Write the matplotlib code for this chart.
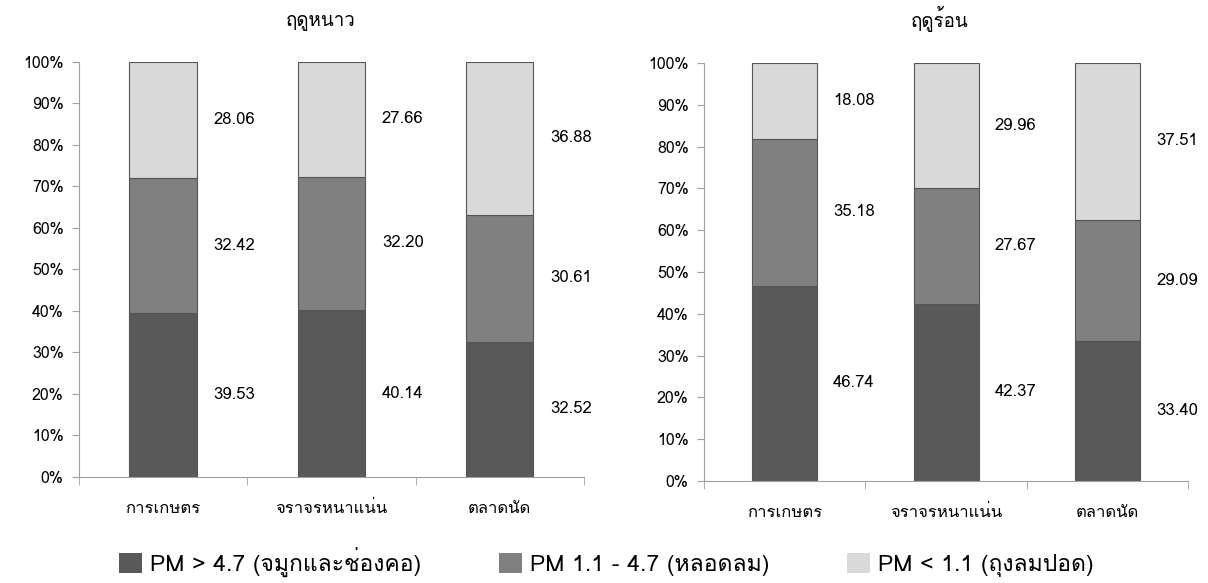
import matplotlib
matplotlib.use('Agg')
import matplotlib.pyplot as plt
from matplotlib import font_manager
from matplotlib.ft2font import FT2Font
from matplotlib.patches import Patch
from matplotlib.ticker import MultipleLocator, FixedLocator
import numpy as np

# find a font that has Thai glyphs, if any is installed
thai_fonts = []
for f in font_manager.fontManager.ttflist:
    try:
        if 0x0E01 in FT2Font(f.fname).get_charmap():
            thai_fonts.append(f.name)
    except Exception:
        pass
plt.rcParams['font.family'] = (thai_fonts[:1] + ['DejaVu Sans']) if thai_fonts else ['DejaVu Sans']

categories = ['การเกษตร', 'จราจรหนาแน่น', 'ตลาดนัด']
titles = ['ฤดูหนาว', 'ฤดูร้อน']
series_names = ['PM > 4.7 (จมูกและช่องคอ)', 'PM 1.1 - 4.7 (หลอดลม)', 'PM < 1.1 (ถุงลมปอด)']

winter_coarse = [39.53, 40.14, 32.52]
winter_mid = [32.42, 32.20, 30.61]
winter_fine = [28.06, 27.66, 36.88]

summer_coarse = [46.74, 42.37, 33.40]
summer_mid = [35.18, 27.67, 29.09]
summer_fine = [18.08, 29.96, 37.51]

colors = ['#595959', '#808080', '#D9D9D9']
axis_col = '#A0A0A0'

fig = plt.figure(figsize=(12.08, 5.83), dpi=100)
ax1 = fig.add_axes([0.0654, 0.182, 0.418, 0.712])
ax2 = fig.add_axes([0.5828, 0.175, 0.401, 0.717])


def draw(ax, stacks, title, title_x_shift, title_y):
    x = np.arange(len(categories))
    bottom = np.zeros(len(categories))
    for vals, c in zip(stacks, colors):
        vals = np.array(vals)
        ax.bar(x, vals, bottom=bottom, width=0.4, color=c, edgecolor='#555555', linewidth=0.8)
        for xi, b, v in zip(x, bottom, vals):
            ax.text(xi + 0.3, b + v / 2, f'{v:.2f}', ha='left', va='center', fontsize=12, color='black')
        bottom += vals
    ax.set_xlim(-0.5, 2.5)
    ax.set_ylim(0, 100)
    ax.yaxis.set_major_locator(MultipleLocator(10))
    ax.set_yticklabels([f'{int(v)}%' for v in ax.get_yticks()])
    ax.set_xticks(x)
    ax.set_xticklabels(categories, fontsize=12)
    for lbl in ax.get_xticklabels():
        lbl.set_verticalalignment('baseline')
    ax.xaxis.set_minor_locator(FixedLocator([-0.5, 0.5, 1.5, 2.5]))
    ax.tick_params(axis='x', which='major', length=0, pad=26)
    ax.tick_params(axis='x', which='minor', length=6, color=axis_col, direction='out')
    ax.tick_params(axis='y', length=5, color=axis_col, labelsize=11.5, pad=6)
    for s in ['top', 'right']:
        ax.spines[s].set_visible(False)
    for s in ['left', 'bottom']:
        ax.spines[s].set_color(axis_col)
    pos = ax.get_position()
    fig.text(pos.x0 + pos.width / 2 + title_x_shift, title_y, title,
             ha='center', va='center', fontsize=13.5)


draw(ax1, [winter_coarse, winter_mid, winter_fine], titles[0], -0.009, 0.964)
draw(ax2, [summer_coarse, summer_mid, summer_fine], titles[1], -0.005, 0.968)

handles = [Patch(facecolor=c, edgecolor='none') for c in colors]
fig.legend(handles, series_names, loc='center', bbox_to_anchor=(0.502, 0.036), ncol=3,
           frameon=False, fontsize=16.5, handlelength=1.0, handleheight=1.0,
           handletextpad=0.35, columnspacing=3.4)

plt.savefig('out.png', dpi=100)
